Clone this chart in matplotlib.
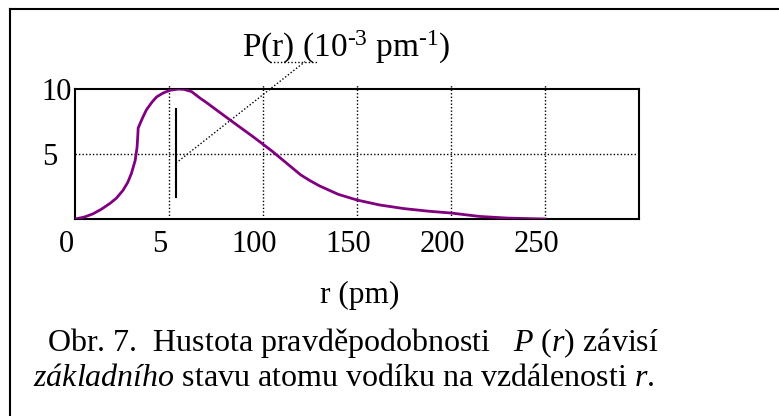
import matplotlib
matplotlib.use("Agg")
import matplotlib.pyplot as plt
import matplotlib.transforms as mtransforms
from matplotlib.lines import Line2D

plt.rcParams['font.family'] = ['Liberation Serif', 'DejaVu Serif']
plt.rcParams['mathtext.fontset'] = 'custom'
plt.rcParams['mathtext.rm'] = 'Liberation Serif'
plt.rcParams['mathtext.it'] = 'Liberation Serif:italic'

# values (r in pm, P in 10^-3 pm^-1)
r = [0, 5, 9.6, 14, 18.6, 22, 25.5, 28, 30, 32, 33, 33.4, 33.6, 34.5, 36, 38, 41, 43.5, 47,
     50.5, 55, 58, 62, 66.5, 70, 77, 85, 95, 105, 115, 120, 125, 130, 140, 150, 162, 175,
     188, 200, 215, 230, 250]
P = [0, 0.15, 0.4, 0.75, 1.2, 1.6, 2.2, 2.8, 3.5, 4.5, 5.5, 6.4, 7.0, 7.3, 7.8, 8.4, 9.0,
     9.4, 9.7, 9.9, 10, 9.97, 9.8, 9.3, 8.95, 8.2, 7.35, 6.3, 5.2, 4.0, 3.4, 2.95, 2.55,
     1.9, 1.46, 1.08, 0.8, 0.6, 0.46, 0.2, 0.07, 0]
xticks = [0, 50, 100, 150, 200, 250]
xlabels = ['0', '5', '100', '150', '200', '250']
yticks = [5, 10]
ylabels = ['5', '10']

fig = plt.figure(figsize=(7.79, 4.16), dpi=100)
ax = fig.add_axes([75/779, 1-219/416, 564/779, 130/416])

ax.plot(r, P, color='#800080', lw=2, zorder=3)
ax.set_xlim(0, 300)
ax.set_ylim(0, 10)

dots = (0, (1, 1.5))
ax.vlines(xticks[1:], 0, 10.4, colors='black', linestyles=dots, lw=1, clip_on=False)
ax.axhline(5, color='black', ls=dots, lw=1)

ax.set_xticks(xticks)
ax.set_xticklabels(xlabels, fontsize=22)
ax.set_yticks(yticks)
ax.set_yticklabels(ylabels, fontsize=22, ha='left')
ax.tick_params(length=0)
ax.tick_params(axis='x', pad=8)
ax.tick_params(axis='y', pad=24)
off = mtransforms.ScaledTranslation(-0.09, 0, fig.dpi_scale_trans)
for lab in ax.get_xticklabels():
    lab.set_transform(lab.get_transform() + off)
for s in ax.spines.values():
    s.set_linewidth(1.5)

# pointer to the label
ax.plot([53.7, 53.7], [1.7, 8.5], color='black', lw=1.5)
ax.plot([53.7, 122.3], [4.3, 12.1], color='black', ls=dots, lw=1, clip_on=False)
ax.plot([103.7, 129.3], [12.1, 12.1], color='black', ls=dots, lw=1, clip_on=False)

fig.text(242/779, 1-47/416, r'P(r) (10$^{\text{-3}}$ pm$^{\text{-1}}$)', fontsize=24, va='center')
fig.text(360/779, 1-295/416, 'r (pm)', fontsize=22.5, ha='center', va='center')
fig.text(47/779, 1-351/416,
         r'Obr. 7.  Hustota pravděpodobnosti   $\mathit{P\ (r)}$ závisí', fontsize=23, va='baseline')
fig.text(33/779, 1-386/416,
         r'$základního$ stavu atomu vodíku na vzdálenosti $r$.', fontsize=23, va='baseline')

# frame around the figure
fig.add_artist(Line2D([10/779, 10/779], [0, 1-9/416], color='black', lw=1.5))
fig.add_artist(Line2D([10/779, 1], [1-9/416, 1-9/416], color='black', lw=1.5))

fig.savefig('out.png', dpi=100)
